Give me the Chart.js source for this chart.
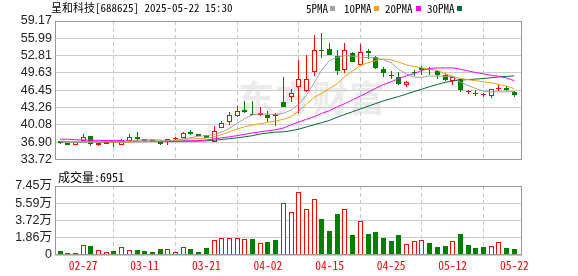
<!DOCTYPE html>
<html>
<head>
<meta charset="utf-8">
<script src="https://cdn.jsdelivr.net/npm/chart.js@4.4.1/dist/chart.umd.min.js"></script>
<style>
body{margin:0;background:#fff;width:578px;height:276px;overflow:hidden;position:relative;
  font-family:"Noto Sans Mono CJK SC","Liberation Mono",monospace;}
canvas{position:absolute;left:0}
#k{top:0} #v{top:170px}
.t{position:absolute;white-space:nowrap;color:#000;line-height:1}
.sq{position:absolute;width:5px;height:5px}
#wm{position:absolute;left:238px;top:70px;font:bold 36px "Noto Sans CJK SC";color:#ebebeb;letter-spacing:1px}
</style>
</head>
<body>
<div id="wm">东方财富</div>
<canvas id="k" width="578" height="170"></canvas>
<canvas id="v" width="578" height="106"></canvas>
<div class="t" style="left:51px;top:2px;font-size:11px">呈和科技[688625] 2025-05-22 15:30</div>
<div class="t" style="left:306px;top:3px;font-size:11px">5PMA</div><div class="sq" style="left:330px;top:6px;background:#a0a0a0"></div>
<div class="t" style="left:344px;top:3px;font-size:11px">10PMA</div><div class="sq" style="left:374px;top:6px;background:#f0a30a"></div>
<div class="t" style="left:385px;top:3px;font-size:11px">20PMA</div><div class="sq" style="left:416px;top:6px;background:#ff00ff"></div>
<div class="t" style="left:427px;top:3px;font-size:11px">30PMA</div><div class="sq" style="left:457px;top:6px;background:#006b36"></div>
<div class="t" style="left:58px;top:171px;font-size:12px">成交量:6951</div>
<script>
// 交易日 (02-24 .. 05-22)
const dates = ['02-24','02-25','02-26','02-27','02-28','03-03','03-04','03-05','03-06','03-07',
  '03-10','03-11','03-12','03-13','03-14','03-17','03-18','03-19','03-20','03-21',
  '03-24','03-25','03-26','03-27','03-28','03-31','04-01','04-02','04-03','04-07',
  '04-08','04-09','04-10','04-11','04-14','04-15','04-16','04-17','04-18','04-21',
  '04-22','04-23','04-24','04-25','04-28','04-29','04-30','05-06','05-07','05-08',
  '05-09','05-12','05-13','05-14','05-15','05-16','05-19','05-20','05-21','05-22'];

const open  = [37.16,36.75,36.40,37.21,38.00,36.30,36.65,36.95,36.45,37.20,
  37.86,37.50,37.25,37.20,37.20,37.55,37.75,38.70,38.40,38.15,
  37.00,39.57,40.55,41.70,42.75,42.10,41.95,41.95,41.75,44.20,
  45.13,47.07,46.30,49.78,53.75,54.05,52.80,50.13,53.25,51.12,
  53.60,52.48,50.40,49.10,48.90,47.32,49.75,50.54,50.35,49.95,
  49.25,48.20,48.48,46.05,46.00,45.55,45.38,46.66,46.89,46.08];
const high  = [37.18,36.80,36.95,38.44,38.05,36.75,37.05,37.00,37.40,38.45,
  38.70,37.55,37.30,37.30,37.55,37.90,38.70,39.10,38.45,38.20,
  39.95,40.80,42.40,43.50,44.40,44.55,43.30,42.55,42.30,48.90,
  46.70,52.00,52.88,56.60,57.00,55.10,53.90,55.07,53.50,54.94,
  54.06,52.70,50.66,50.07,49.84,48.20,50.13,50.85,50.70,50.13,
  49.66,48.95,48.73,46.54,46.50,45.96,46.66,47.32,47.14,46.31];
const low   = [36.66,36.30,36.38,37.20,36.22,36.20,36.55,36.10,36.40,37.10,
  37.15,37.10,37.10,36.35,36.35,37.30,37.70,38.30,38.05,37.65,
  36.95,39.50,40.15,41.60,42.30,41.85,41.75,40.70,39.85,43.30,
  44.20,42.32,46.20,49.07,52.30,52.95,49.25,49.66,51.60,51.00,
  52.13,50.36,48.96,48.48,47.50,47.00,49.13,49.25,49.25,48.50,
  48.20,47.42,46.14,45.84,45.45,45.26,45.08,46.31,46.31,45.26];
const close = [36.68,36.35,36.93,37.86,36.63,36.70,36.95,36.75,37.35,37.85,
  37.50,37.20,37.15,36.65,37.45,37.75,38.65,38.35,38.10,37.70,
  38.90,40.50,41.90,42.55,42.50,41.90,42.20,41.35,42.10,43.40,
  45.96,48.43,48.60,53.89,53.60,53.00,50.07,53.83,51.70,53.48,
  53.30,50.54,49.55,49.25,47.60,48.02,49.60,50.15,50.15,49.20,
  48.30,48.90,46.44,46.15,45.70,45.65,46.61,46.89,46.44,45.50];

// 成交量 (手) 及柱色 (1 红 / 0 绿)
const volume = [4000,1900,2600,10500,9400,5800,3700,4000,9100,5800,
  5100,4000,2900,6200,6900,3700,9100,6200,2900,7200,
  16600,18800,18800,18800,17700,17000,13400,13700,15900,56600,
  46900,68500,50100,60900,38600,25600,44000,50100,21300,37100,
  22400,24500,18000,14800,21300,12300,15500,16600,12600,8300,
  9400,15500,22400,10800,7200,8300,10100,14500,7200,6951];
const volUp = [0,0,1,1,0,1,1,0,1,1, 0,0,0,0,1,1,1,0,0,0,
  1,1,1,1,1,0,1,0,0,1, 1,1,1,1,0,0,0,1,0,1,
  0,0,0,0,0,1,1,1,0,0, 0,1,0,0,0,0,1,1,0,0];

const ma5 = [37.00,36.90,36.85,36.95,36.90,36.90,37.00,36.98,36.90,37.10,
  37.28,37.33,37.40,37.27,37.20,37.25,37.50,37.75,38.00,38.10,
  38.30,38.75,39.45,40.35,41.25,41.90,42.10,42.05,42.00,42.20,
  42.80,43.90,45.50,47.80,50.20,51.90,52.50,52.85,52.70,52.50,
  52.45,52.40,52.05,51.50,50.30,49.40,48.85,48.80,49.05,49.05,
  49.00,48.95,47.95,47.30,46.75,46.30,46.15,46.15,46.15,46.20];
const ma10 = [37.10,37.05,37.00,37.00,36.95,36.95,36.95,36.90,36.90,36.95,
  37.00,37.05,37.10,37.10,37.15,37.25,37.40,37.50,37.60,37.65,
  37.85,38.30,38.80,39.30,39.75,40.05,40.30,40.55,40.80,41.10,
  41.60,42.60,43.90,45.10,45.90,46.80,47.60,49.00,50.00,51.00,
  51.50,51.90,52.20,52.05,51.60,51.10,50.80,50.55,50.30,50.10,
  49.50,49.00,48.60,48.40,48.20,48.00,47.80,47.50,47.20,46.75];
const ma20 = [37.45,37.45,37.35,37.30,37.25,37.25,37.20,37.20,37.15,37.10,
  37.10,37.10,37.05,37.00,37.00,37.05,37.10,37.15,37.20,37.30,
  37.50,37.70,37.90,38.10,38.35,38.60,38.80,39.00,39.20,39.50,
  40.10,40.60,41.10,41.60,42.20,42.70,43.40,44.00,44.70,45.35,
  46.10,46.80,47.50,48.00,48.60,49.10,49.50,50.10,50.45,50.55,
  50.55,50.55,50.30,50.00,49.70,49.45,49.20,49.00,48.70,48.20];
const ma30 = [36.95,36.95,36.95,36.95,36.95,36.95,36.95,36.95,36.95,37.00,
  37.00,37.00,37.05,37.05,37.05,37.05,37.10,37.10,37.10,37.15,
  37.25,37.40,37.55,37.70,37.90,38.10,38.40,38.60,38.75,38.80,
  39.00,39.30,39.70,40.10,40.50,40.90,41.50,42.00,42.50,43.00,
  43.50,44.00,44.50,44.90,45.30,45.75,46.20,46.65,47.10,47.50,
  47.90,48.15,48.30,48.40,48.50,48.60,48.75,48.90,49.00,49.08];

const priceTickLabels = ['33.72','36.90','40.08','43.26','46.45','49.63','52.81','55.99','59.17'];
const volTicks = [0, 18625, 37250, 55875, 74500];
const volTickLabels = ['0','1.86万','3.72万','5.59万','7.45万'];
const xTickLabels = ['02-27','03-11','03-21','04-02','04-15','04-25','05-12','05-22'];

const RED = '#ff0000', GRN = '#008000';
const idx = dates.map((_, i) => i);
const xTickIdx = xTickLabels.map(d => dates.indexOf(d));
const up = close.map((c, i) => c >= open[i]);

// 图表外框
const frame = {
  id: 'frame',
  afterDraw(c) {
    const a = c.chartArea, g = c.ctx;
    g.save(); g.strokeStyle = '#999'; g.lineWidth = 1;
    g.strokeRect(Math.round(a.left) + 0.5, Math.round(a.top) + 0.5,
      Math.round(a.right - a.left) - 1, Math.round(a.bottom - a.top) - 1);
    g.restore();
  }
};

// 柱子对齐到整像素, 避免发虚
const snap = {
  id: 'snap',
  beforeDatasetsDraw(c) {
    c.data.datasets.forEach((ds, di) => {
      const meta = c.getDatasetMeta(di);
      if (meta.type !== 'bar') return;
      meta.data.forEach(el => {
        el.x = Math.floor(el.x) + (Math.round(el.width) % 2 ? 0.5 : 0);
        let t = Math.round(Math.min(el.y, el.base)), b = Math.round(Math.max(el.y, el.base));
        if (b - t < 1) b = t + 1;
        if (el.y <= el.base) { el.y = t; el.base = b; } else { el.y = b; el.base = t; }
      });
    });
  }
};

function xAxis(showLabels) {
  return {
    type: 'linear', min: -0.65, max: 60.0, offset: false,
    afterBuildTicks: s => { s.ticks = xTickIdx.map(v => ({ value: v })); },
    ticks: {
      display: showLabels, autoSkip: false, maxRotation: 0, color: RED, padding: 4,
      font: { family: '"Noto Sans Mono CJK SC","Liberation Mono",monospace', size: 11.5 },
      callback: v => dates[v]
    },
    grid: { color: '#c8c8c8', drawTicks: false },
    border: { display: false, dash: [4, 3] },
    afterFit: s => { s.height = showLabels ? 21 : 0; }
  };
}

const yFont = { family: '"Liberation Sans",Arial,"Noto Sans CJK SC"', size: 12.5 };

Chart.defaults.animation = false;

new Chart(document.getElementById('k'), {
  data: {
    datasets: [
      { type: 'line', data: idx.map(i => ({ x: i, y: ma5[i] })), borderColor: '#a0a0a0', borderWidth: 1, pointRadius: 0, order: 1 },
      { type: 'line', data: idx.map(i => ({ x: i, y: ma10[i] })), borderColor: '#f0a30a', borderWidth: 1, pointRadius: 0, order: 1 },
      { type: 'line', data: idx.map(i => ({ x: i, y: ma20[i] })), borderColor: '#ff00ff', borderWidth: 1, pointRadius: 0, order: 1 },
      { type: 'line', data: idx.map(i => ({ x: i, y: ma30[i] })), borderColor: '#006b36', borderWidth: 1, pointRadius: 0, order: 1 },
      { type: 'bar', data: idx.map(i => ({ x: i, y: [open[i], close[i]] })),
        backgroundColor: idx.map(i => up[i] ? '#fff' : GRN), borderColor: idx.map(i => up[i] ? RED : GRN),
        borderWidth: 1, borderSkipped: false, inflateAmount: 0, barThickness: 5, minBarLength: 1, grouped: false, order: 2 },
      { type: 'bar', data: idx.map(i => ({ x: i, y: [low[i], high[i]] })),
        backgroundColor: idx.map(i => up[i] ? RED : GRN), inflateAmount: 0, barThickness: 1, grouped: false, order: 3 }
    ]
  },
  options: {
    responsive: false, devicePixelRatio: 1, events: [],
    layout: { padding: { left: 0, right: 56, top: 21, bottom: 4 } },
    plugins: { legend: { display: false }, tooltip: { enabled: false } },
    scales: {
      x: xAxis(false),
      y: {
        type: 'linear', min: 33.72, max: 59.17,
        afterBuildTicks: s => { s.ticks = priceTickLabels.map(t => ({ value: parseFloat(t) })); },
        ticks: { autoSkip: false, color: '#222', font: yFont, padding: 3, callback: (v, i) => priceTickLabels[i] },
        grid: { color: '#cccccc', drawTicks: false },
        border: { display: false },
        afterFit: s => { s.width = 55; }
      }
    }
  },
  plugins: [snap, frame]
});

new Chart(document.getElementById('v'), {
  data: {
    datasets: [
      { type: 'bar', data: idx.map(i => ({ x: i, y: volume[i] })),
        backgroundColor: idx.map(i => volUp[i] ? '#fff' : GRN), borderColor: idx.map(i => volUp[i] ? RED : GRN),
        borderWidth: 1, borderSkipped: false, inflateAmount: 0, barThickness: 5, grouped: false }
    ]
  },
  options: {
    responsive: false, devicePixelRatio: 1, events: [],
    layout: { padding: { left: 0, right: 56, top: 16, bottom: 0 } },
    plugins: { legend: { display: false }, tooltip: { enabled: false } },
    scales: {
      x: xAxis(true),
      y: {
        type: 'linear', min: 0, max: 74500,
        afterBuildTicks: s => { s.ticks = volTicks.map(v => ({ value: v })); },
        ticks: { autoSkip: false, color: '#222', font: yFont, padding: 3, callback: (v, i) => volTickLabels[i] },
        grid: { color: '#cccccc', drawTicks: false },
        border: { display: false },
        afterFit: s => { s.width = 55; }
      }
    }
  },
  plugins: [snap, frame]
});
</script>
</body>
</html>
